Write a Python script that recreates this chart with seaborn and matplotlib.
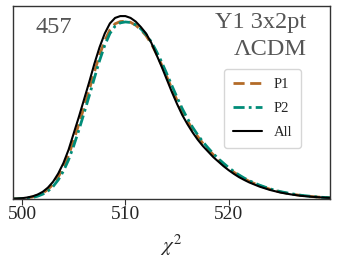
import numpy as np
import pandas as pd
import matplotlib
matplotlib.use("Agg")
import matplotlib.pyplot as plt
import seaborn as sns

# chi2 grid and curves (peak of "All" scaled to 1)
chi2 = [499.0, 499.5, 500.0, 500.5, 501.0, 501.5, 502.0, 502.5, 503.0, 503.5,
        504.0, 504.5, 505.0, 505.5, 506.0, 506.5, 507.0, 507.5, 508.0, 508.5,
        509.0, 509.5, 510.0, 510.5, 511.0, 511.5, 512.0, 512.5, 513.0, 513.5,
        514.0, 514.5, 515.0, 515.5, 516.0, 516.5, 517.0, 517.5, 518.0, 518.5,
        519.0, 519.5, 520.0, 520.5, 521.0, 521.5, 522.0, 523.0, 524.0, 525.0,
        526.0, 527.0, 528.0, 529.0, 530.0]

p_all = [0.002, 0.003, 0.005, 0.009, 0.015, 0.025, 0.040, 0.063, 0.095, 0.140,
         0.197, 0.270, 0.360, 0.450, 0.545, 0.640, 0.740, 0.830, 0.905, 0.960,
         0.990, 1.000, 1.000, 0.990, 0.970, 0.940, 0.905, 0.855, 0.790, 0.725,
         0.655, 0.585, 0.520, 0.460, 0.410, 0.365, 0.325, 0.290, 0.260, 0.230,
         0.205, 0.180, 0.158, 0.138, 0.120, 0.105, 0.091, 0.068, 0.050, 0.036,
         0.026, 0.018, 0.013, 0.009, 0.006]

p1 = [0.001, 0.002, 0.004, 0.007, 0.012, 0.020, 0.033, 0.053, 0.081, 0.121,
      0.173, 0.240, 0.322, 0.410, 0.503, 0.598, 0.695, 0.788, 0.865, 0.925,
      0.958, 0.970, 0.972, 0.966, 0.950, 0.925, 0.893, 0.850, 0.795, 0.735,
      0.670, 0.603, 0.540, 0.480, 0.428, 0.382, 0.342, 0.305, 0.273, 0.243,
      0.216, 0.191, 0.168, 0.147, 0.128, 0.112, 0.097, 0.073, 0.054, 0.039,
      0.028, 0.020, 0.014, 0.010, 0.007]

p2 = [0.001, 0.001, 0.003, 0.005, 0.009, 0.016, 0.027, 0.044, 0.069, 0.105,
      0.153, 0.215, 0.292, 0.378, 0.470, 0.565, 0.662, 0.757, 0.840, 0.905,
      0.945, 0.963, 0.968, 0.965, 0.952, 0.930, 0.900, 0.860, 0.808, 0.750,
      0.686, 0.620, 0.556, 0.495, 0.441, 0.393, 0.351, 0.313, 0.280, 0.249,
      0.221, 0.196, 0.172, 0.151, 0.132, 0.115, 0.100, 0.076, 0.056, 0.041,
      0.030, 0.021, 0.015, 0.010, 0.007]

xticks = [500, 510, 520]

sns.set_style("white", {'xtick.bottom': True})
plt.rcParams['font.family'] = ['Liberation Serif', 'DejaVu Serif']
plt.rcParams['mathtext.fontset'] = 'stix'

df = pd.DataFrame({'chi2': chi2, 'P1': p1, 'P2': p2, 'All': p_all})

fig = plt.figure(figsize=(3.37, 2.62), dpi=100)
ax = fig.add_axes([0.038, 0.24, 0.941, 0.737])

sns.lineplot(data=df, x='chi2', y='P1', ax=ax, color='#b36b28', lw=2.0,
             label='P1').lines[-1].set_dashes([4, 2])
sns.lineplot(data=df, x='chi2', y='P2', ax=ax, color='#008c78', lw=2.0,
             label='P2').lines[-1].set_dashes([4, 1.5, 1, 1.5])
sns.lineplot(data=df, x='chi2', y='All', ax=ax, color='black', lw=1.5,
             label='All')

ax.set_xlim(499.1, 529.8)
ax.set_ylim(0, 1.055)
ax.set_yticks([])
ax.set_xticks(xticks)
ax.tick_params(axis='x', labelsize=14, length=4, width=0.8, color='#333333',
               direction='out', pad=1, bottom=True)
ax.set_ylabel('')
ax.set_xlabel(r'$\chi^2$', fontsize=15, labelpad=7)
for s in ax.spines.values():
    s.set_color('#333333')
    s.set_linewidth(1.0)

ax.text(0.07, 0.86, '457', transform=ax.transAxes, fontsize=17.5,
        color='#555555', ha='left', va='baseline')
ax.text(0.926, 0.884, 'Y1 3x2pt', transform=ax.transAxes, fontsize=17.5,
        color='#555555', ha='right', va='baseline')
ax.text(0.926, 0.746, 'ΛCDM', transform=ax.transAxes, fontsize=17.5,
        color='#555555', ha='right', va='baseline')

ax.legend(loc='upper right', bbox_to_anchor=(0.91, 0.675), borderaxespad=0,
          fontsize=10.5, handlelength=2.0, labelspacing=0.75, frameon=True,
          fancybox=True, edgecolor='#cccccc', borderpad=0.6)

fig.savefig('out.png', dpi=100)
